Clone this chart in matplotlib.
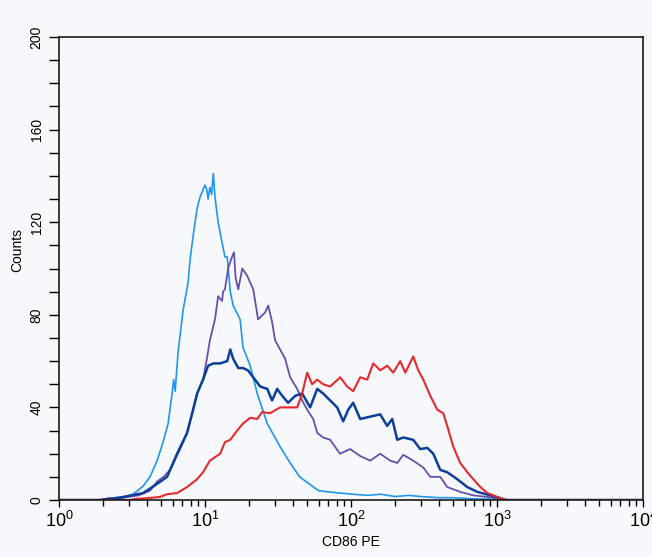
import matplotlib
matplotlib.use("Agg")
import matplotlib.pyplot as plt
import numpy as np
from matplotlib.ticker import LogLocator, FixedFormatter

# CD86 PE histogram
lblue_x = [1, 1.9, 2.3, 2.75, 3.22, 3.77, 4.2, 4.7, 5.16, 5.59, 5.95, 6.1, 6.25, 6.54, 7.08, 7.66, 7.91,
           8.29, 8.83, 9.26, 10.0, 10.3, 10.5, 10.8, 11.1, 11.4, 11.7, 12.3, 13.1, 13.7, 14.2, 14.9, 15.6,
           17.4, 18.2, 20.4, 22.8, 26.7, 32.7, 38.3, 44.5, 60, 84, 103, 130, 160, 200, 250, 300, 400,
           500, 700, 1000, 1100, 10000]
lblue_y = [0, 0, 0.5, 1, 2.5, 6, 10, 17, 25, 33, 46, 52, 47, 64, 82, 94, 104,
           114, 126, 131, 136, 134, 130, 135, 132, 141, 131, 120, 111, 105, 105, 90, 84,
           78, 66, 58, 46, 33, 23, 16, 10, 4, 3, 2.5, 2, 2.5, 1.5, 2, 1.5, 1,
           1, 0.5, 0.3, 0, 0]

purple_x = [1, 1.9, 2.2, 2.75, 3.5, 4.2, 4.7, 5.2, 5.77, 6.75, 7.54, 8.29, 8.83, 9.7, 10.3, 10.8,
            11.7, 12.3, 13.1, 13.3, 13.7, 14.4, 15.3, 15.8, 16.2, 16.9, 18.0, 19.4, 21.4, 23.1, 25.8,
            27.1, 28.8, 30.2, 32.7, 35.4, 38.3, 42.8, 46.3, 50.1, 55.1, 58.7, 64.5, 72, 84, 98.7,
            115.6, 135.4, 158.5, 185.7, 207.3, 228, 266.9, 312.6, 349, 408.6, 456, 560, 688, 858,
            1053, 1200, 10000]
purple_y = [0, 0, 0.8, 1, 2, 4, 8, 10, 13, 22, 29, 39, 46, 52, 61, 69,
            78, 88, 86, 90, 91, 100, 105, 107, 96, 91, 100, 97, 91, 78, 81,
            84, 77, 69, 65, 61, 53, 48, 43, 39, 35, 29, 27, 26, 20, 22,
            19, 17, 20, 17, 16, 19.5, 17, 14, 10, 10, 5.6, 3.5, 2, 1.3,
            0.5, 0, 0]

dblue_x = [1, 1.9, 2.3, 2.75, 3.77, 4.7, 5.5, 6.44, 7.54, 8.29, 8.83, 9.7, 10.5, 11.4, 12.7, 14.2,
           14.9, 15.6, 16.9, 18.2, 19.7, 21.4, 23.9, 26.7, 28.8, 31.2, 33.8, 37.1, 41.5, 46.3, 52.5,
           58.7, 64.5, 72, 80.4, 88.4, 95.7, 103.5, 115.6, 135.4, 158.5, 177, 191.6, 207.3, 228,
           266.9, 298, 333, 366, 408.6, 456, 534, 626, 733, 900, 1053, 1150, 10000]
dblue_y = [0, 0, 0.6, 1.3, 3, 7, 10, 20, 29, 39, 46, 52, 58, 59, 59, 60,
           65, 61, 57, 57, 56, 53, 49, 48, 43, 48, 45, 42, 45, 46, 40,
           48, 46, 43, 40, 34, 39, 42, 35, 36, 37, 32, 35, 26, 27,
           26, 22, 22.5, 20, 13, 12, 9, 5.6, 3.5, 2, 0.8, 0, 0]

red_x = [1, 3.0, 3.4, 4.0, 4.9, 5.5, 6.44, 7.54, 8.83, 9.7, 10.8, 12.7, 13.7, 14.9, 16.6, 18.2,
         20.4, 22.8, 24.6, 27.9, 32.7, 38.3, 42.8, 46.3, 50.1, 54.2, 58.7, 64.5, 72, 84.3, 94.2,
         103.5, 115.6, 129.1, 142, 158.5, 177.1, 194.6, 217.4, 235.3, 266.9, 288.8, 312.6, 349,
         390, 428.5, 456, 502, 560, 626, 688, 769, 858, 943, 1053, 1150, 10000]
red_y = [0, 0, 0.5, 0.8, 1.3, 2.5, 3, 5.6, 9, 12, 17, 20, 25, 26, 30, 33,
         35.5, 35, 38, 37.5, 40, 40, 40, 46, 55, 50, 52, 50, 49, 53, 49,
         47, 53, 52, 59, 56, 58, 55, 60, 55, 62, 56, 52, 45,
         39, 37.5, 32, 23, 16, 12, 9, 5.6, 3, 2, 0.8, 0, 0]

bg = '#f6f8fc'
plt.rcParams['font.family'] = ['Liberation Sans', 'DejaVu Sans']
plt.rcParams['mathtext.default'] = 'regular'

fig = plt.figure(figsize=(6.52, 5.57), dpi=100, facecolor=bg)
ax = fig.add_axes([59/652, 1 - 500/557, 584/652, 463/557], facecolor=bg)

ax.plot(lblue_x, lblue_y, color='#2196ea', lw=1.2)
ax.plot(purple_x, purple_y, color='#6750a8', lw=1.3)
ax.plot(dblue_x, dblue_y, color='#0b3f98', lw=1.8)
ax.plot(red_x, red_y, color='#e52a2c', lw=1.5)

ax.set_xscale('log')
ax.set_xlim(1, 10000)
ax.set_ylim(0, 200)

ax.xaxis.set_minor_locator(LogLocator(base=10, subs=np.arange(2, 10), numticks=40))
ax.xaxis.set_minor_formatter(FixedFormatter([]))
ax.set_xticks([1, 10, 100, 1000, 10000])
ax.set_xticklabels(['$10^{0}$', '$10^{1}$', '$10^{2}$', '$10^{3}$', '$10^{4}$'], fontsize=13)

ax.set_yticks([0, 40, 80, 120, 160, 200])
ax.set_yticks(np.arange(0, 201, 10), minor=True)
ax.set_yticklabels(['0', '40', '80', '120', '160', '200'], rotation=90, va='center', fontsize=10)

ax.tick_params(axis='y', which='both', direction='out', length=7, width=1, pad=4)
ax.tick_params(axis='x', which='major', direction='out', length=5, width=1, pad=3)
ax.tick_params(axis='x', which='minor', direction='out', length=4, width=1)

for s in ax.spines.values():
    s.set_color('#1a1a1a')
    s.set_linewidth(1.2)

ax.set_ylabel('Counts', fontsize=10)
ax.yaxis.set_label_coords(-0.06, 0.54)
ax.set_xlabel('CD86 PE', fontsize=10)
ax.xaxis.set_label_coords(0.5, -0.075)

plt.savefig('out.png', dpi=100, facecolor=bg)
